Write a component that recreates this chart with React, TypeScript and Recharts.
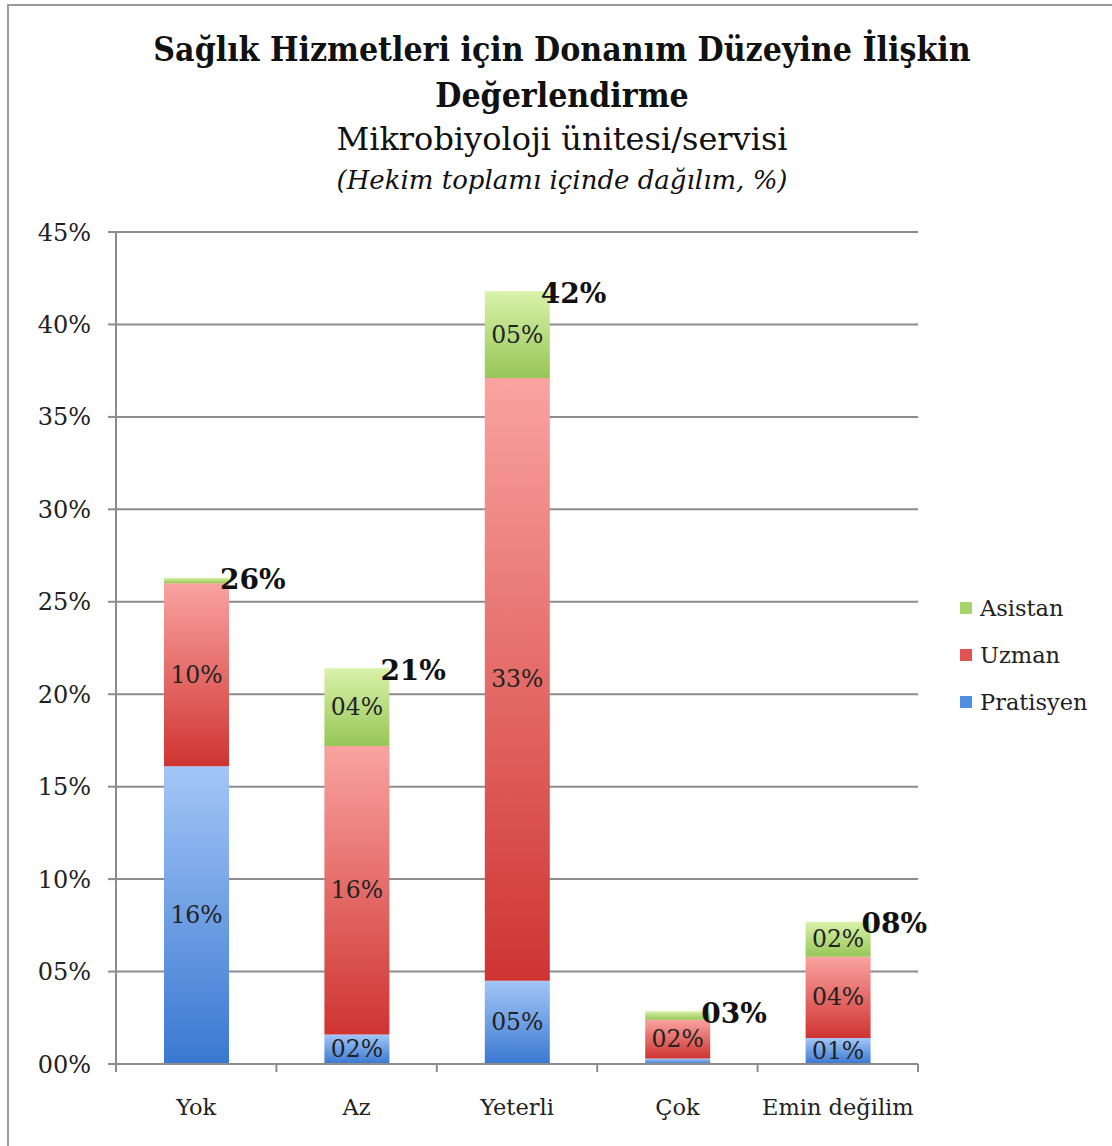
import React from 'react';
import {
  BarChart,
  Bar,
  XAxis,
  YAxis,
  CartesianGrid,
  LabelList,
} from 'recharts';

// Kategoriler ve seriler (hekim toplamı içinde %)
const categories = ['Yok', 'Az', 'Yeterli', 'Çok', 'Emin değilim'];
const pratisyen = [16.1, 1.6, 4.5, 0.3, 1.4];
const uzman = [9.9, 15.6, 32.6, 2.1, 4.4];
const asistan = [0.3, 4.2, 4.7, 0.45, 1.9];
const yTicks = [0, 5, 10, 15, 20, 25, 30, 35, 40, 45];

const data = categories.map((name, i) => ({
  name,
  pratisyen: pratisyen[i],
  uzman: uzman[i],
  asistan: asistan[i],
}));
const totals = categories.map((_, i) => pratisyen[i] + uzman[i] + asistan[i]);

const W = 1112;
const H = 1146;
const margin = { top: 232, right: 194, bottom: 22, left: 56 };
const yAxisWidth = 60;
const plotWidth = W - margin.left - margin.right - yAxisWidth;
const band = plotWidth / categories.length;

const SERIF = "'DejaVu Serif', serif";
const AXIS_GRAY = '#8c8c8c';

const pct = (v: number) => String(Math.round(v)).padStart(2, '0') + '%';

const InsideLabel = (props: any) => {
  const { x, y, width, height, value } = props;
  if (value == null || value < 1) return null;
  return (
    <text
      x={x + width / 2}
      y={y + height / 2}
      textAnchor="middle"
      dominantBaseline="central"
      fontFamily={SERIF}
      fontSize={23.5}
      fill="#222"
    >
      {pct(value)}
    </text>
  );
};

const TotalLabel = (props: any) => {
  const { x, y, width, index } = props;
  return (
    <text
      x={x + width - 9}
      y={y + 2}
      textAnchor="start"
      dominantBaseline="central"
      fontFamily={SERIF}
      fontWeight="bold"
      fontSize={28}
      fill="#111"
    >
      {pct(totals[index])}
    </text>
  );
};

const CategoryTick = (props: any) => {
  const { x, y, payload, index } = props;
  const left = x - band / 2;
  const right = x + band / 2;
  return (
    <g>
      <line x1={left} y1={y} x2={left} y2={y + 8} stroke={AXIS_GRAY} strokeWidth={2} />
      {index === categories.length - 1 && (
        <line x1={right} y1={y} x2={right} y2={y + 8} stroke={AXIS_GRAY} strokeWidth={2} />
      )}
      <text
        x={x}
        y={y + 43}
        textAnchor="middle"
        dominantBaseline="central"
        fontFamily={SERIF}
        fontSize={22.5}
        fill="#222"
      >
        {payload.value}
      </text>
    </g>
  );
};

const legendItems = [
  { name: 'Asistan', color: '#a9d46c' },
  { name: 'Uzman', color: '#e05350' },
  { name: 'Pratisyen', color: '#4f8ee0' },
];

export default function App() {
  return (
    <div
      style={{
        position: 'absolute',
        left: 0,
        top: 0,
        width: W,
        height: H,
        background: '#fff',
        overflow: 'hidden',
      }}
    >
      {/* çerçeve */}
      <div style={{ position: 'absolute', left: 7, top: 4, right: 0, height: 2, background: '#9a9a9a' }} />
      <div style={{ position: 'absolute', left: 7, top: 4, bottom: 0, width: 2, background: '#9a9a9a' }} />

      <div
        style={{
          position: 'absolute',
          left: 0,
          top: 0,
          width: W,
          zIndex: 1,
          textAlign: 'center',
          fontFamily: SERIF,
          color: '#111',
        }}
      >
        <div
          style={{
            position: 'absolute',
            left: 62,
            width: 1000,
            top: 27,
            fontSize: 33.5,
            fontWeight: 'bold',
            fontStretch: 'condensed',
            lineHeight: '46px',
          }}
        >
          Sağlık Hizmetleri için Donanım Düzeyine İlişkin
          <br />
          Değerlendirme
        </div>
        <div style={{ position: 'absolute', left: 62, width: 1000, top: 119, fontSize: 32, lineHeight: '40px' }}>
          Mikrobiyoloji ünitesi/servisi
        </div>
        <div
          style={{
            position: 'absolute',
            left: 62,
            width: 1000,
            top: 163,
            fontSize: 26,
            fontStyle: 'italic',
            lineHeight: '34px',
          }}
        >
          (Hekim toplamı içinde dağılım, %)
        </div>
      </div>

      <div style={{ position: 'absolute', left: 0, top: 0 }}>
        <BarChart width={W} height={H} data={data} margin={margin}>
          <defs>
            <linearGradient id="gPrat" x1="0" y1="0" x2="0" y2="1">
              <stop offset="0%" stopColor="#a3c6f7" />
              <stop offset="100%" stopColor="#3a78d1" />
            </linearGradient>
            <linearGradient id="gUzm" x1="0" y1="0" x2="0" y2="1">
              <stop offset="0%" stopColor="#f9a3a0" />
              <stop offset="100%" stopColor="#cf3431" />
            </linearGradient>
            <linearGradient id="gAsi" x1="0" y1="0" x2="0" y2="1">
              <stop offset="0%" stopColor="#d9f2aa" />
              <stop offset="100%" stopColor="#97c657" />
            </linearGradient>
          </defs>
          <CartesianGrid vertical={false} stroke={AXIS_GRAY} strokeWidth={2} />
          <XAxis
            dataKey="name"
            height={60}
            axisLine={{ stroke: AXIS_GRAY, strokeWidth: 2 }}
            tickLine={false}
            tickSize={0}
            tickMargin={0}
            interval={0}
            tick={<CategoryTick />}
          />
          <YAxis
            width={yAxisWidth}
            domain={[0, 45]}
            ticks={yTicks}
            interval={0}
            tickFormatter={(v: number) => pct(v)}
            axisLine={{ stroke: AXIS_GRAY, strokeWidth: 2 }}
            tickLine={{ stroke: AXIS_GRAY, strokeWidth: 2 }}
            tickSize={8}
            tickMargin={17}
            tick={{ fontFamily: SERIF, fontSize: 24, fill: '#222' }}
          />
          <Bar dataKey="pratisyen" stackId="a" fill="url(#gPrat)" barSize={65} isAnimationActive={false}>
            <LabelList dataKey="pratisyen" content={<InsideLabel />} />
          </Bar>
          <Bar dataKey="uzman" stackId="a" fill="url(#gUzm)" barSize={65} isAnimationActive={false}>
            <LabelList dataKey="uzman" content={<InsideLabel />} />
          </Bar>
          <Bar dataKey="asistan" stackId="a" fill="url(#gAsi)" barSize={65} isAnimationActive={false}>
            <LabelList dataKey="asistan" content={<InsideLabel />} />
            <LabelList dataKey="asistan" content={<TotalLabel />} />
          </Bar>
        </BarChart>
      </div>

      {/* legend */}
      <div style={{ position: 'absolute', left: 960, top: 584, fontFamily: SERIF, fontSize: 22.5, color: '#222' }}>
        {legendItems.map((it) => (
          <div key={it.name} style={{ display: 'flex', alignItems: 'center', height: 47 }}>
            <span style={{ display: 'inline-block', width: 12, height: 12, background: it.color, marginRight: 8 }} />
            {it.name}
          </div>
        ))}
      </div>
    </div>
  );
}
